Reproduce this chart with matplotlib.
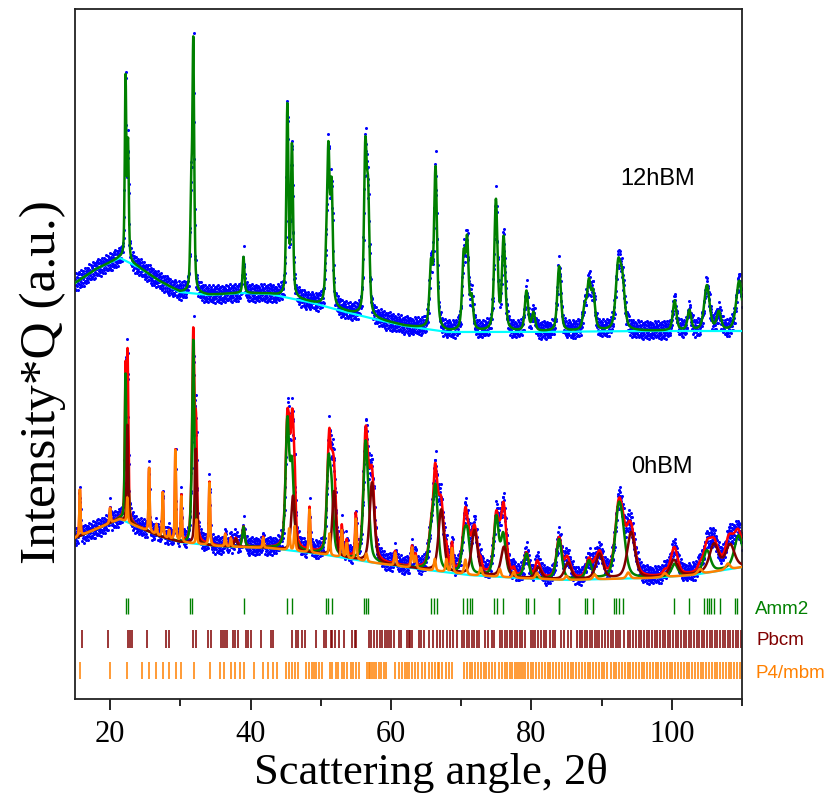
import numpy as np
import matplotlib
matplotlib.use("Agg")
import matplotlib.pyplot as plt

# ---------------------------------------------------------------- data ---
X_MIN, X_MAX = 15.0, 110.0
STEP = 0.04

# refined backgrounds (knots, intensity units)
bg12_x = [15, 18, 21.4, 24, 27, 29.9, 34, 38.8, 42.7, 48.3, 53, 57, 62, 68, 80, 95, 110]
bg12_y = [416, 430, 441, 432, 418, 407, 404, 406, 405, 397, 388, 381, 373, 367, 367, 368, 368]

bg0_x = [15, 18, 21.4, 24, 27, 29.9, 35, 42.7, 50, 56.8, 64, 71, 78, 85, 97, 103, 109.3, 110]
bg0_y = [161, 170, 180, 172, 163, 157, 153, 151, 145, 137, 130, 124, 121, 119, 121, 124, 131, 132]

# 12hBM, Amm2 phase: position (2theta), height, FWHM
amm2_12h_pos = [22.2, 22.55, 31.55, 31.85, 39.0, 45.25, 45.9, 50.8, 51.1, 51.55,
                56.35, 56.75, 65.7, 66.35, 70.35, 70.85, 71.5, 74.95, 76.05, 79.3,
                80.3, 83.95, 87.6, 88.2, 88.8, 92.35, 92.95, 100.4, 102.5, 105.0,
                106.7, 109.6]
amm2_12h_int = [180, 115, 90, 245, 36, 190, 150, 40, 145, 115,
                160, 110, 60, 160, 70, 85, 30, 130, 92, 40,
                18, 65, 22, 45, 35, 60, 45, 30, 20, 45,
                18, 50]
amm2_12h_fwhm = [0.25, 0.25, 0.3, 0.3, 0.3, 0.35, 0.35, 0.4, 0.4, 0.4,
                 0.45, 0.45, 0.5, 0.5, 0.5, 0.5, 0.5, 0.55, 0.55, 0.55,
                 0.55, 0.6, 0.6, 0.6, 0.6, 0.8, 0.8, 0.6, 0.6, 0.9,
                 0.7, 1.0]

# 0hBM, Amm2 phase
amm2_0h_pos = [22.2, 22.55, 31.55, 31.85, 39.0, 45.25, 45.9, 51.1, 51.55, 56.35,
               56.75, 65.7, 66.35, 70.4, 70.9, 75.0, 76.0, 79.3, 83.95, 88.2,
               92.4, 93.0, 100.4, 105.0, 109.5]
amm2_0h_int = [145, 50, 20, 200, 20, 125, 80, 85, 55, 105,
               35, 30, 80, 30, 35, 58, 40, 24, 40, 18,
               60, 30, 12, 22, 32]
amm2_0h_fwhm = [0.25, 0.25, 0.35, 0.35, 0.4, 0.6, 0.6, 0.6, 0.6, 0.7,
                0.7, 0.8, 0.8, 0.8, 0.8, 0.8, 0.8, 0.8, 0.9, 0.9,
                1.2, 1.2, 1.0, 1.2, 1.4]

# 0hBM, Pbcm phase
pbcm_0h_pos = [22.47, 32.2, 37.9, 46.05, 51.9, 57.3, 67.15, 71.9, 76.1, 81.0,
               85.2, 89.7, 94.2, 100.3, 106.0, 108.3]
pbcm_0h_int = [98, 95, 8, 55, 65, 80, 62, 45, 30, 11,
               17, 25, 46, 16, 27, 24]
pbcm_0h_fwhm = [0.25, 0.35, 0.5, 0.6, 0.6, 0.8, 0.9, 1.0, 1.0, 1.0,
                1.1, 1.2, 1.3, 1.3, 1.5, 1.5]

# 0hBM, P4/mbm phase
p4_0h_pos = [15.7, 20.0, 22.45, 25.55, 26.6, 27.5, 28.4, 29.3, 30.15, 32.3,
             34.15, 36.4, 37.2, 41.8, 45.5, 46.3, 48.4, 51.25, 53.0, 53.7,
             55.0, 56.5, 60.6, 63.0, 63.5, 66.25, 67.9, 68.7, 70.6, 72.8,
             75.5, 77.5, 80.8, 85.0, 89.0, 93.8, 99.0, 104.0, 108.0]
p4_0h_int = [48, 15, 25, 64, 10, 46, 8, 94, 46, 25,
             63, 12, 8, 10, 22, 25, 43, 22, 27, 15,
             41, 8, 13, 20, 12, 12, 13, 25, 15, 8,
             8, 6, 6, 4, 5, 6, 4, 5, 6]
p4_0h_fwhm = [0.18, 0.2, 0.2, 0.18, 0.2, 0.18, 0.2, 0.18, 0.18, 0.2,
              0.2, 0.2, 0.2, 0.2, 0.25, 0.25, 0.22, 0.25, 0.25, 0.25,
              0.25, 0.3, 0.3, 0.3, 0.3, 0.3, 0.3, 0.3, 0.4, 0.4,
              0.4, 0.4, 0.5, 0.5, 0.5, 0.6, 0.6, 0.7, 0.7]

# scatter of the measured points about the refined profile
resid = [4, -6, 2, 9, -3, -8, 5, 1, -5, 7, -2, -9, 3, 6, -4, 0, 8, -7, 2, -1,
         5, -6, 9, -3, 1, -8, 4, 7, -5, -2, 6, -9, 3, 0, -4, 8, -6, 2, 5, -7,
         1, -3, 7, -5, 3, -8, 6, -1, 4, -4, 2, 9, -6, 0, 3, -2, 7, -7, 1, 5, -5]

# reflection positions
amm2_ticks = [22.2, 22.6, 31.4, 31.7, 39.0, 45.2, 45.9, 50.8, 51.1, 51.55,
              56.2, 56.5, 56.8, 65.7, 66.2, 66.5, 70.3, 70.8, 71.3, 71.6,
              74.7, 75.05, 76.0, 79.2, 79.45, 80.4, 83.9, 84.0, 87.6, 87.9,
              88.8, 91.8, 92.1, 92.5, 93.0, 100.3, 102.5, 104.6, 105.0, 105.3,
              105.6, 106.0, 106.9, 109.0, 109.3]
pbcm_ticks = [16.04, 19.63, 22.57, 22.80, 23.18, 25.26, 28.00, 28.33, 31.78, 32.26,
              33.91, 34.39, 35.80, 36.04, 36.37, 36.61, 37.46, 37.79, 38.17, 39.35,
              39.68, 40.06, 41.48, 42.90, 43.13, 45.87, 46.44, 46.77, 47.39, 47.72,
              49.28, 50.46, 50.79, 51.41, 51.64, 52.02, 52.59, 53.30, 54.48, 54.81,
              55.05, 56.84, 57.22, 57.55, 58.03, 58.50, 58.74, 59.11, 59.44, 59.78,
              60.06, 60.39, 61.10, 61.48, 62.28, 62.52, 62.75, 62.99, 63.94, 64.31,
              64.65, 65.35, 66.06, 66.54, 67.01, 67.48, 67.96, 68.43, 68.9, 69.37,
              70.08, 70.45, 70.79, 71.12, 71.5, 71.88, 72.21, 72.54, 73.39, 73.77,
              74.33, 74.71, 75.52, 75.85, 76.23, 76.6, 76.94, 77.27, 77.65, 78.02,
              78.36, 78.69, 79.06, 79.91, 80.24, 80.57, 80.95, 81.42, 81.8, 82.13,
              82.6, 83.08, 83.41, 84.17, 84.64, 85.21, 85.58, 86.53, 86.9, 87.28,
              87.62, 87.95, 88.3, 88.66, 89.0, 89.4, 89.7, 90.1, 90.5, 90.9,
              91.3, 91.68, 92.08, 92.4, 92.68, 93.2, 93.7, 94.1, 94.5, 94.9,
              95.3, 95.65, 96.0, 96.4, 96.8, 97.2, 97.55, 97.9, 98.3, 98.7,
              99.05, 99.45, 99.8, 100.2, 100.6, 100.95, 101.3, 101.7, 102.05, 102.45,
              102.8, 103.2, 103.55, 103.9, 104.3, 104.65, 105.0, 105.4, 105.75, 106.15,
              106.5, 106.9, 107.25, 107.6, 108.0, 108.35, 108.7, 109.1, 109.45, 109.8]
p4mbm_ticks = [15.71, 19.96, 22.42, 24.55, 25.54, 26.58, 27.53, 28.38, 29.33, 30.13,
               31.88, 34.24, 35.66, 36.28, 37.22, 37.84, 38.5, 39.11, 40.53, 41.81,
               42.52, 43.13, 43.7, 45.02, 45.5, 45.87, 46.35, 46.82, 47.95, 48.33,
               48.71, 49.04, 49.37, 49.75, 50.22, 51.26, 51.64, 52.11, 52.49, 52.97,
               53.3, 53.77, 54.24, 54.57, 55.05, 55.42, 56.61, 56.84, 57.08, 57.32,
               57.55, 57.88, 58.26, 58.59, 58.97, 59.3, 60.62, 61.1, 61.57, 61.95,
               62.28, 62.61, 62.99, 63.46, 63.84, 64.41, 64.79, 65.35, 65.83, 66.3,
               66.68, 66.9, 67.34, 67.81, 68.28, 68.76, 70.4, 70.8, 71.2, 71.6,
               72.0, 72.4, 72.8, 73.2, 73.6, 74.0, 74.4, 74.8, 75.4, 75.8,
               76.2, 76.6, 77.0, 77.3, 77.6, 77.9, 78.2, 78.5, 78.8, 79.1,
               79.5, 79.9, 80.3, 80.7, 81.1, 81.5, 81.9, 82.3, 82.7, 83.1,
               83.5, 84.0, 84.4, 84.8, 85.2, 85.6, 86.0, 86.4, 86.8, 87.2,
               87.6, 88.0, 88.4, 88.8, 89.2, 89.6, 90.0, 90.4, 90.8, 91.3,
               91.7, 92.1, 92.5, 92.9, 93.3, 93.7, 94.1, 94.5, 94.9, 95.3,
               95.7, 96.1, 96.5, 96.9, 97.3, 97.7, 98.1, 98.5, 98.9, 99.3,
               99.7, 100.1, 100.5, 100.9, 101.3, 101.7, 102.1, 102.5, 102.9, 103.3,
               103.7, 104.1, 104.5, 104.9, 105.3, 105.7, 106.1, 106.5, 106.9, 107.3,
               107.7, 108.1, 108.5, 108.9, 109.3, 109.7]

# ------------------------------------------------------------ profiles ---
tth = np.arange(X_MIN, X_MAX + STEP / 2, STEP)


def pseudo_voigt(x, pos, height, fwhm, eta=0.5):
    out = np.zeros_like(x)
    for p, h, w in zip(pos, height, fwhm):
        d = (x - p) / (w / 2.0)
        out += h * (eta / (1.0 + d ** 2) + (1 - eta) * np.exp(-np.log(2) * d ** 2))
    return out


bg12 = np.interp(tth, bg12_x, bg12_y)
bg0 = np.interp(tth, bg0_x, bg0_y)

amm2_12 = pseudo_voigt(tth, amm2_12h_pos, amm2_12h_int, amm2_12h_fwhm)
calc12 = bg12 + amm2_12

amm2_0 = pseudo_voigt(tth, amm2_0h_pos, amm2_0h_int, amm2_0h_fwhm)
pbcm_0 = pseudo_voigt(tth, pbcm_0h_pos, pbcm_0h_int, pbcm_0h_fwhm)
p4_0 = pseudo_voigt(tth, p4_0h_pos, p4_0h_int, p4_0h_fwhm)
calc0 = bg0 + amm2_0 + pbcm_0 + p4_0

noise = np.resize(np.array(resid, dtype=float), tth.size)
obs12 = calc12 + noise * (1 + 0.004 * amm2_12)
obs0 = calc0 + noise * (1 + 0.004 * (calc0 - bg0))

# ---------------------------------------------------------------- plot ---
plt.rcParams['font.family'] = ['Liberation Serif', 'DejaVu Serif']
fig = plt.figure(figsize=(8.34, 7.96), dpi=100)
ax = fig.add_axes([75 / 834, 1 - 699 / 796, 667 / 834, 690 / 796])

BLUE = '#0000ff'
GREEN = '#008000'
CYAN = '#00ffff'
RED = '#ff0000'
DKRED = '#800000'
ORANGE = '#ff8000'

# 12hBM
ax.plot(tth, obs12, 'o', ms=2.2, mew=0, color=BLUE, zorder=2)
ax.plot(tth, bg12, color=CYAN, lw=1.6, zorder=3)
ax.plot(tth, calc12, color=GREEN, lw=1.8, zorder=4)

# 0hBM
ax.plot(tth, obs0, 'o', ms=2.2, mew=0, color=BLUE, zorder=2)
ax.plot(tth, bg0, color=CYAN, lw=1.6, zorder=3)
ax.plot(tth, calc0, color=RED, lw=1.8, zorder=4)
ax.plot(tth, bg0 + amm2_0, color=GREEN, lw=1.8, zorder=5)
ax.plot(tth, bg0 + pbcm_0, color=DKRED, lw=1.8, zorder=6)
ax.plot(tth, bg0 + p4_0, color=ORANGE, lw=1.8, zorder=7)

# reflection markers
ax.vlines(amm2_ticks, 85, 101, color=GREEN, lw=1.0)
ax.vlines(pbcm_ticks, 51, 69, color=DKRED, lw=1.1)
ax.vlines(p4mbm_ticks, 20, 37, color=ORANGE, lw=1.1)

sans = ['Liberation Sans', 'DejaVu Sans']
tr = ax.get_yaxis_transform()
ax.text(1.019, 85, 'Amm2', color=GREEN, fontsize=13.5, family=sans, transform=tr,
        va='baseline', ha='left', clip_on=False)
ax.text(1.021, 54, 'Pbcm', color=DKRED, fontsize=13.5, family=sans, transform=tr,
        va='baseline', ha='left', clip_on=False)
ax.text(1.020, 21, 'P4/mbm', color=ORANGE, fontsize=13.5, family=sans, transform=tr,
        va='baseline', ha='left', clip_on=False)

ax.text(92.7, 514, '12hBM', fontsize=17, family=sans, va='baseline', ha='left')
ax.text(94.15, 226, '0hBM', fontsize=17, family=sans, va='baseline', ha='left')

ax.set_xlim(X_MIN, X_MAX)
ax.set_ylim(0, 690)
ax.set_yticks([])
ax.set_xticks([20, 40, 60, 80, 100])
ax.set_xticks([30, 50, 70, 90, 110], minor=True)
ax.tick_params(axis='x', which='major', direction='out', length=8, width=1.2,
               labelsize=22, pad=7)
ax.tick_params(axis='x', which='minor', direction='out', length=5, width=1.2)
for s in ax.spines.values():
    s.set_linewidth(1.3)
    s.set_color('#222222')

ax.set_xlabel('Scattering angle, 2θ', fontsize=32)
ax.xaxis.label.set_va('center')
ax.xaxis.set_label_coords(0.534, -0.107)
ax.set_ylabel('Intensity*Q (a.u.)', fontsize=37)
ax.yaxis.label.set_va('center')
ax.yaxis.set_label_coords(-0.048, 0.459)

fig.savefig('out.png', dpi=100)
